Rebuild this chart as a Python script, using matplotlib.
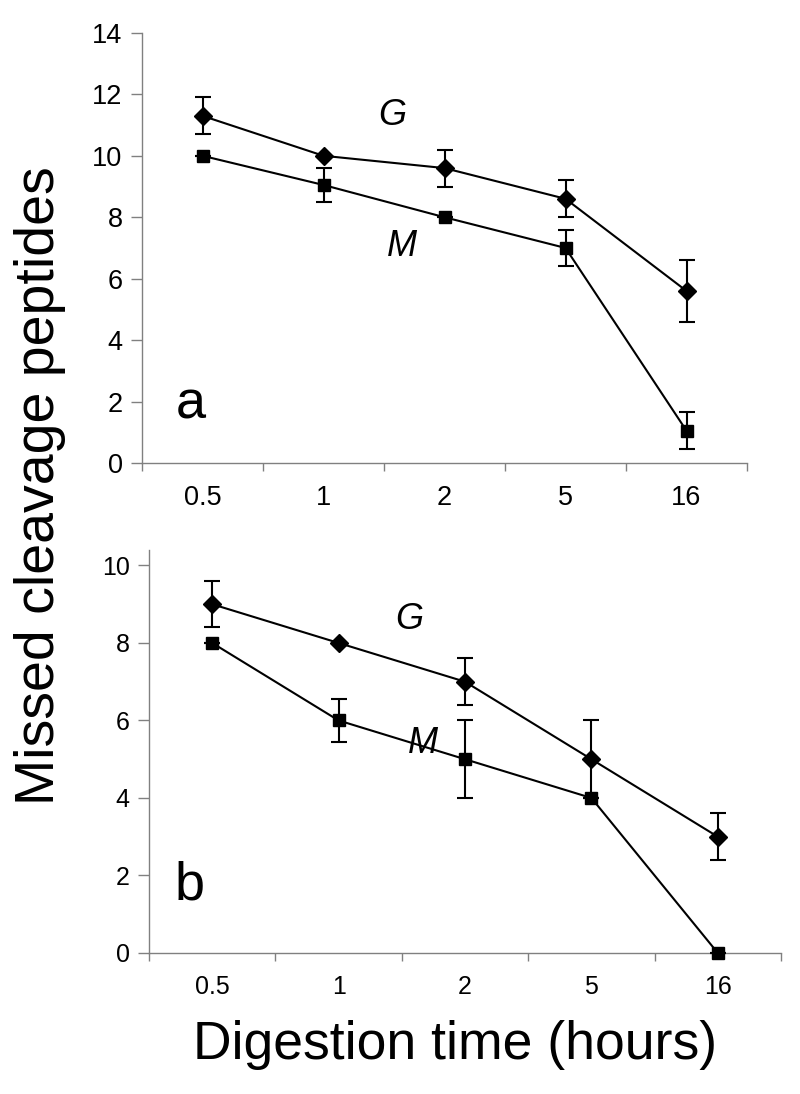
import numpy as np
import matplotlib
matplotlib.use('Agg')
import matplotlib.pyplot as plt

plt.rcParams['font.family'] = ['Liberation Sans', 'DejaVu Sans']

## data ##
TIMES = ['0.5', '1', '2', '5', '16']

A_G = [11.3, 10.0, 9.6, 8.6, 5.6]
A_G_ERR = [0.6, 0.0, 0.6, 0.6, 1.0]
A_M = [10.0, 9.05, 8.0, 7.0, 1.05]
A_M_ERR = [0.0, 0.55, 0.0, 0.6, 0.6]

B_G = [9.0, 8.0, 7.0, 5.0, 3.0]
B_G_ERR = [0.6, 0.0, 0.6, 1.0, 0.6]
B_M = [8.0, 6.0, 5.0, 4.0, 0.0]
B_M_ERR = [0.0, 0.55, 1.0, 0.0, 0.0]

AXIS_GREY = '#808080'


def draw_panel(ax, g, g_err, m, m_err, ylim, yticks, tick_font, letter, g_pos, m_pos, letter_pos):
    x = np.arange(len(TIMES))
    for vals, errs, mk, size in ((g, g_err, 'D', 9), (m, m_err, 's', 8)):
        lines = ax.errorbar(x, vals, yerr=errs, color='black', lw=1.5, marker=mk, ms=size,
                            capsize=6, capthick=1.5, elinewidth=1.5, zorder=4)
        # keep the marker at y=0 whole, on top of the axis line
        for artist in lines.get_children():
            artist.set_clip_on(False)

    ax.set_xlim(-0.5, len(TIMES) - 0.5)
    ax.set_ylim(*ylim)
    ax.set_yticks(yticks)
    ax.set_yticklabels([str(t) for t in yticks], **tick_font)
    ax.set_xticks(x)
    ax.set_xticklabels(TIMES, **tick_font)
    ax.set_xticks(np.arange(-0.5, len(TIMES)), minor=True)
    ax.tick_params(axis='x', which='major', length=0, pad=16)
    ax.tick_params(axis='x', which='minor', length=6, color=AXIS_GREY, width=1)
    ax.tick_params(axis='y', length=8, color=AXIS_GREY, width=1, pad=6)

    ax.spines['right'].set_visible(False)
    ax.spines['top'].set_visible(False)
    for s in ('left', 'bottom'):
        ax.spines[s].set_color(AXIS_GREY)
        ax.spines[s].set_linewidth(1)
        ax.spines[s].set_zorder(1)

    ax.text(*g_pos, 'G', fontsize=26, style='italic', ha='center', va='center')
    ax.text(*m_pos, 'M', fontsize=26, style='italic', ha='center', va='center')
    ax.text(*letter_pos, letter, fontsize=39, ha='center', va='center')


fig = plt.figure(figsize=(8, 10.94), dpi=100)

ax_a = fig.add_axes([0.1775, 0.5768, 0.75625, 0.3931])
draw_panel(ax_a, A_G, A_G_ERR, A_M, A_M_ERR, (0, 14), list(range(0, 15, 2)),
           {'fontsize': 19.5}, 'a', (1.57, 11.3), (1.65, 7.05), (-0.1, 1.9))

ax_b = fig.add_axes([0.18625, 0.1289, 0.79, 0.3684])
draw_panel(ax_b, B_G, B_G_ERR, B_M, B_M_ERR, (0, 10.4), list(range(0, 11, 2)),
           {'fontsize': 18, 'family': ['Liberation Sans Narrow', 'Liberation Sans']},
           'b', (1.56, 8.6), (1.67, 5.4), (-0.18, 1.75))

fig.text(0.05, 0.556, 'Missed cleavage peptides', rotation=90, fontsize=40,
         ha='center', va='center')
fig.text(0.569, 0.045, 'Digestion time (hours)', fontsize=38.5,
         ha='center', va='center')

fig.savefig('out.png', dpi=100)
